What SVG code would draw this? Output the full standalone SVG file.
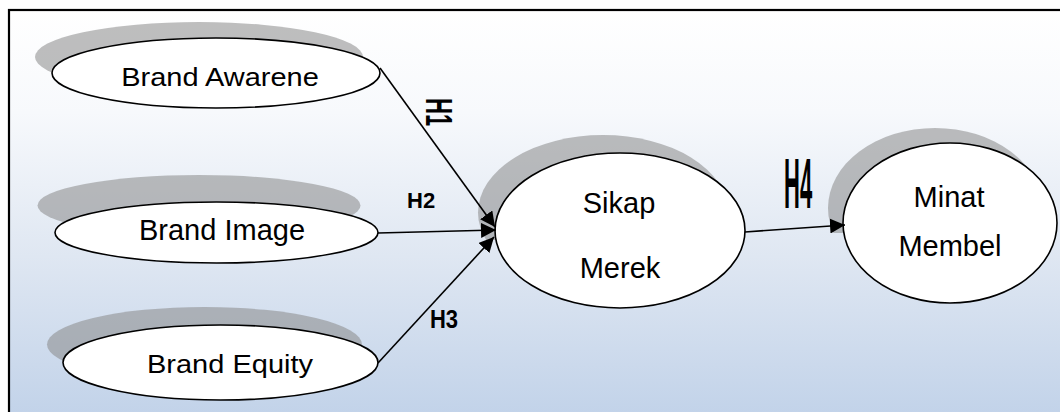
<svg xmlns="http://www.w3.org/2000/svg" width="1060" height="412" viewBox="0 0 1060 412">
<defs>
<linearGradient id="bg" x1="0" y1="0" x2="0" y2="1">
<stop offset="0" stop-color="#ffffff"/>
<stop offset="0.25" stop-color="#f7f9fc"/>
<stop offset="0.6" stop-color="#dfe7f2"/>
<stop offset="1" stop-color="#c1d2e9"/>
</linearGradient>
<marker id="ah" viewBox="0 0 15 15" refX="15" refY="7.5" markerWidth="15" markerHeight="15" markerUnits="userSpaceOnUse" orient="auto">
<path d="M0,0 L15,7.5 L0,15 z" fill="#000"/>
</marker>
<clipPath id="c1"><rect x="0" y="0" width="1060" height="73"/></clipPath>
<clipPath id="c2"><rect x="0" y="0" width="1060" height="232"/></clipPath>
<clipPath id="c3"><rect x="0" y="0" width="1060" height="362"/></clipPath>
<clipPath id="c4"><rect x="0" y="0" width="1060" height="240"/></clipPath>
<clipPath id="c5"><rect x="0" y="0" width="1060" height="233"/></clipPath>
</defs>
<style>
.sh{fill:#888888;fill-opacity:0.55}
.el{fill:#ffffff;stroke:#000;stroke-width:1.6}
.t{font-family:"Liberation Sans",Arial,sans-serif;font-size:29px;fill:#000;text-anchor:middle}
.h{font-family:"Liberation Sans",Arial,sans-serif;font-weight:bold;font-size:22px;fill:#000}
.ln{stroke:#000;stroke-width:1.6;fill:none;marker-end:url(#ah)}
</style>
<rect x="9" y="10" width="1060" height="410" fill="url(#bg)" stroke="#000" stroke-width="2.2"/>

<g id="brand-awareness">
<ellipse class="sh" cx="199" cy="57" rx="164" ry="35" clip-path="url(#c1)"/>
<ellipse class="el" cx="216" cy="73" rx="164" ry="35"/>
<text class="t" transform="translate(220,86) scale(1,0.88)" x="0" y="0">Brand Awarene</text>
</g>
<g id="brand-image">
<ellipse class="sh" cx="199" cy="205.5" rx="161.5" ry="30.5" clip-path="url(#c2)"/>
<ellipse class="el" cx="216.5" cy="232.5" rx="161.5" ry="30.5"/>
<text class="t" x="222" y="240">Brand Image</text>
</g>
<g id="brand-equity">
<ellipse class="sh" cx="204.5" cy="344.5" rx="157.5" ry="37.5" clip-path="url(#c3)"/>
<ellipse class="el" cx="220.5" cy="362.5" rx="157.5" ry="37.5"/>
<text class="t" transform="translate(230,373) scale(1,0.9)" x="0" y="0">Brand Equity</text>
</g>
<g id="sikap-merek">
<ellipse class="sh" cx="603" cy="212.5" rx="125" ry="77.5" clip-path="url(#c4)"/>
<ellipse class="el" cx="620" cy="230.5" rx="125" ry="77.5"/>
<text class="t" x="619" y="213">Sikap</text>
<text class="t" x="620" y="278">Merek</text>
</g>
<g id="minat-membeli">
<ellipse class="sh" cx="935" cy="208" rx="107" ry="80" clip-path="url(#c5)"/>
<ellipse class="el" cx="950" cy="223" rx="107" ry="80"/>
<text class="t" x="949" y="207">Minat</text>
<text class="t" x="950" y="256">Membel</text>
</g>

<g id="connectors">
<line class="ln" x1="380" y1="68" x2="495" y2="227"/>
<line class="ln" x1="378" y1="233" x2="496" y2="230"/>
<line class="ln" x1="378" y1="363" x2="494" y2="237"/>
<line class="ln" x1="745" y1="232" x2="845" y2="225"/>
<text class="h" transform="translate(426,98) rotate(90) scale(1,1.7)" x="0" y="0" font-size="16">H1</text>
<text class="h" x="407" y="208">H2</text>
<text class="h" transform="translate(430,328) scale(1,1.15)" x="0" y="0">H3</text>
<text class="h" transform="translate(784,208) scale(1,3.2)" x="0" y="0">H4</text>
</g>
</svg>
